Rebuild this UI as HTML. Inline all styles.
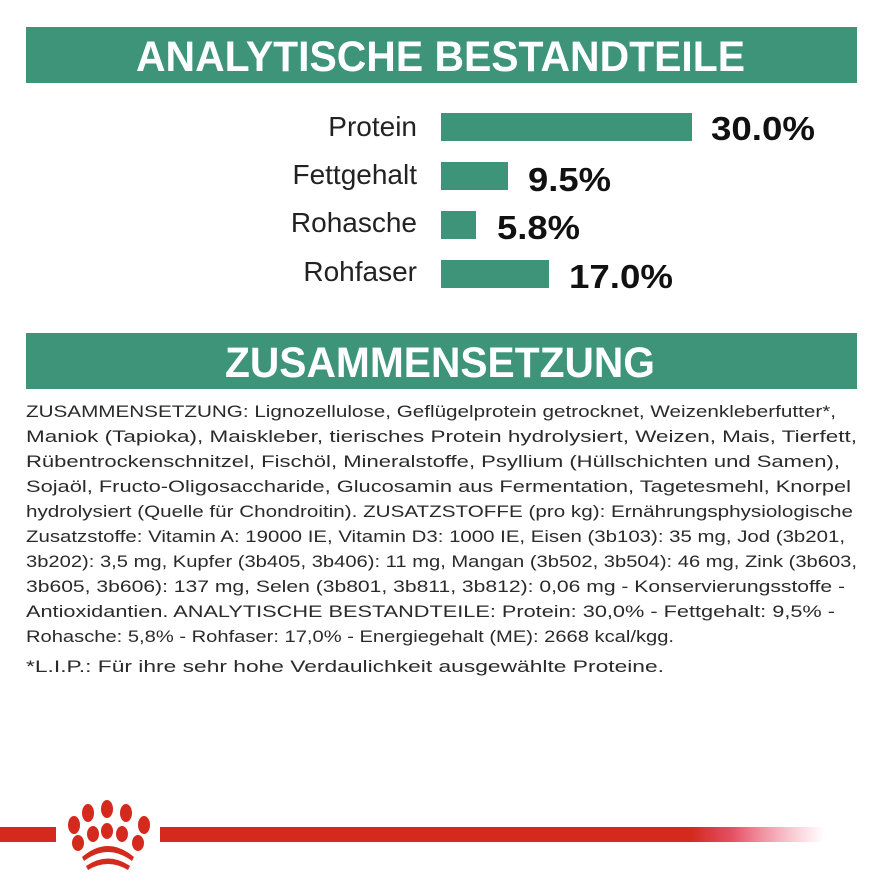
<!DOCTYPE html>
<html><head><meta charset="utf-8"><style>
html,body{margin:0;padding:0;background:#fff;}
svg{display:block;}
</style></head><body>
<svg width="883" height="883" viewBox="0 0 883 883" xmlns="http://www.w3.org/2000/svg" font-family="Liberation Sans, sans-serif">
<defs>
<linearGradient id="fade" x1="0" x2="1" y1="0" y2="0">
<stop offset="0" stop-color="#d42a1e"/>
<stop offset="0.8" stop-color="#d42a1e"/>
<stop offset="0.86" stop-color="#e03048" stop-opacity="0.85"/>
<stop offset="1" stop-color="#f06080" stop-opacity="0"/>
</linearGradient>
</defs>
<rect x="26" y="27" width="831" height="56" fill="#3d9478"/>
<text x="136" y="71" font-size="43" font-weight="bold" fill="#fff" textLength="609" lengthAdjust="spacingAndGlyphs">ANALYTISCHE BESTANDTEILE</text>

<g font-size="28" fill="#222" text-anchor="end">
<text x="417" y="136">Protein</text>
<text x="417" y="184">Fettgehalt</text>
<text x="417" y="232">Rohasche</text>
<text x="417" y="281">Rohfaser</text>
</g>
<g fill="#3d9478">
<rect x="441" y="113" width="251" height="28"/>
<rect x="441" y="162" width="67" height="28"/>
<rect x="441" y="211" width="35" height="28"/>
<rect x="441" y="260" width="108" height="28"/>
</g>
<g font-size="33" font-weight="bold" fill="#111">
<text x="711" y="140" textLength="104" lengthAdjust="spacingAndGlyphs">30.0%</text>
<text x="528" y="191" textLength="83" lengthAdjust="spacingAndGlyphs">9.5%</text>
<text x="497" y="239" textLength="83" lengthAdjust="spacingAndGlyphs">5.8%</text>
<text x="569" y="288" textLength="104" lengthAdjust="spacingAndGlyphs">17.0%</text>
</g>

<rect x="26" y="333" width="831" height="56" fill="#3d9478"/>
<text x="225" y="377" font-size="43" font-weight="bold" fill="#fff" textLength="430" lengthAdjust="spacingAndGlyphs">ZUSAMMENSETZUNG</text>

<g font-size="17" fill="#2a2a2a">
<text x="26" y="417" textLength="810" lengthAdjust="spacingAndGlyphs">ZUSAMMENSETZUNG: Lignozellulose, Geflügelprotein getrocknet, Weizenkleberfutter*,</text>
<text x="26" y="442" textLength="831" lengthAdjust="spacingAndGlyphs">Maniok (Tapioka), Maiskleber, tierisches Protein hydrolysiert, Weizen, Mais, Tierfett,</text>
<text x="26" y="467" textLength="814" lengthAdjust="spacingAndGlyphs">Rübentrockenschnitzel, Fischöl, Mineralstoffe, Psyllium (Hüllschichten und Samen),</text>
<text x="26" y="492" textLength="825" lengthAdjust="spacingAndGlyphs">Sojaöl, Fructo-Oligosaccharide, Glucosamin aus Fermentation, Tagetesmehl, Knorpel</text>
<text x="26" y="517" textLength="827" lengthAdjust="spacingAndGlyphs">hydrolysiert (Quelle für Chondroitin). ZUSATZSTOFFE (pro kg): Ernährungsphysiologische</text>
<text x="26" y="542" textLength="819" lengthAdjust="spacingAndGlyphs">Zusatzstoffe: Vitamin A: 19000 IE, Vitamin D3: 1000 IE, Eisen (3b103): 35 mg, Jod (3b201,</text>
<text x="26" y="567" textLength="831" lengthAdjust="spacingAndGlyphs">3b202): 3,5 mg, Kupfer (3b405, 3b406): 11 mg, Mangan (3b502, 3b504): 46 mg, Zink (3b603,</text>
<text x="26" y="592" textLength="819" lengthAdjust="spacingAndGlyphs">3b605, 3b606): 137 mg, Selen (3b801, 3b811, 3b812): 0,06 mg - Konservierungsstoffe -</text>
<text x="26" y="617" textLength="809" lengthAdjust="spacingAndGlyphs">Antioxidantien. ANALYTISCHE BESTANDTEILE: Protein: 30,0% - Fettgehalt: 9,5% -</text>
<text x="26" y="642" textLength="648" lengthAdjust="spacingAndGlyphs">Rohasche: 5,8% - Rohfaser: 17,0% - Energiegehalt (ME): 2668 kcal/kgg.</text>
<text x="26" y="672" textLength="638" lengthAdjust="spacingAndGlyphs">*L.I.P.: Für ihre sehr hohe Verdaulichkeit ausgewählte Proteine.</text>
</g>

<rect x="0" y="827" width="56" height="15" fill="#d42a1e"/>
<rect x="160" y="827" width="665" height="15" fill="url(#fade)"/>
<g fill="#d42a1e">
<ellipse cx="74" cy="825" rx="6" ry="9"/>
<ellipse cx="88" cy="813" rx="6" ry="9"/>
<ellipse cx="107" cy="809" rx="6" ry="9"/>
<ellipse cx="126" cy="813" rx="6" ry="9"/>
<ellipse cx="144" cy="825" rx="6" ry="9"/>
<ellipse cx="78" cy="843" rx="6" ry="8"/>
<ellipse cx="93" cy="834" rx="6" ry="8"/>
<ellipse cx="107" cy="831" rx="6" ry="8"/>
<ellipse cx="122" cy="834" rx="6" ry="8"/>
<ellipse cx="138" cy="843" rx="6" ry="8"/>
<path d="M82 857 Q108 835 134 857 L132 861 Q108 843 84 861 Z"/>
<path d="M86 866 Q108 851 130 866 L128 870 Q108 858 88 870 Z"/>
</g>
</svg>
</body></html>
